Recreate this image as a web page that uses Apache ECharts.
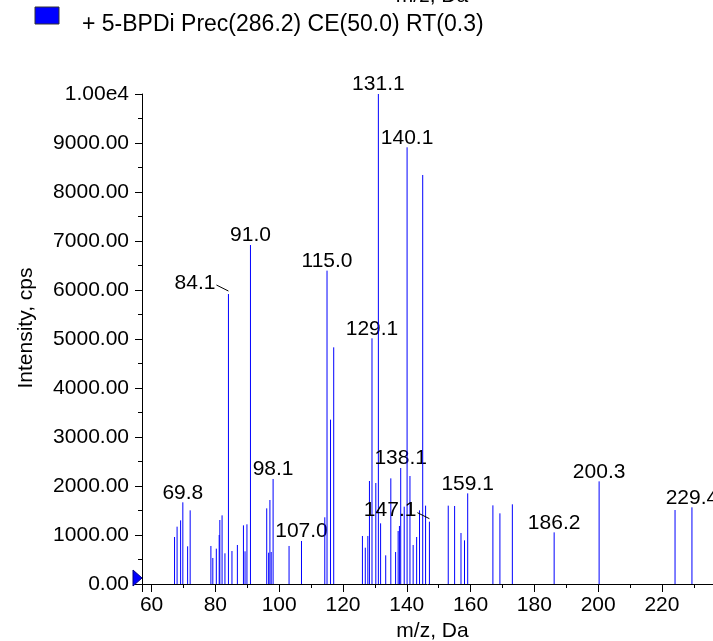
<!DOCTYPE html>
<html>
<head>
<meta charset="utf-8">
<script src="https://cdn.jsdelivr.net/npm/echarts@6/dist/echarts.min.js"></script>
<style>
html,body{margin:0;padding:0;background:#fff;}
#chart{width:713px;height:641px;}
</style>
</head>
<body>
<div id="chart"></div>
<script>
// ---- data ----
const seriesName = '+ 5-BPDi Prec(286.2) CE(50.0) RT(0.3)';
const mzValues = [
  67.2, 68.0, 69.1, 69.8, 71.3, 72.1, 78.6, 79.2, 80.3, 81.2, 81.4, 82.1, 83.0, 84.1, 85.2, 86.9,
  88.8, 89.3, 89.9, 91.0, 96.1, 96.7, 97.1, 97.5, 98.1, 103.1, 107.0, 114.3, 115.0, 116.1, 117.1,
  126.1, 127.0, 127.8, 128.3, 129.1, 130.3, 131.1, 131.8, 133.4, 135.0, 136.5, 137.3, 137.7, 138.1,
  139.2, 140.1, 141.0, 142.0, 143.1, 144.0, 145.0, 145.9, 147.1, 153.0, 155.0, 157.0, 158.1, 159.1,
  167.0, 169.2, 173.1, 186.2, 200.3, 224.1, 229.4
];
const intensities = [
  959, 1170, 1299, 1667, 769, 1503, 776, 531, 721, 1000, 1306, 1401, 626, 5918, 673, 796,
  1197, 667, 1218, 6918, 1544, 639, 1714, 653, 2143, 776, 878, 1361, 6395, 3354, 4830,
  980, 741, 980, 2102, 5014, 2061, 10000, 1238, 585, 2156, 653, 1082, 1184, 2367,
  1578, 8912, 2204, 796, 959, 1503, 8347, 1599, 1272, 1599, 1592, 1041, 891, 1850,
  1605, 1442, 1626, 1054, 2095, 1510, 1565
];
const labeledPeaks = [69.8, 84.1, 91.0, 98.1, 107.0, 115.0, 129.1, 131.1, 138.1, 140.1, 147.1, 159.1, 186.2, 200.3, 229.4];
const leaderLabelPeaks = [84.1, 147.1];
const xAxisTitle = 'm/z, Da';
const yAxisTitle = 'Intensity, cps';

// ---- chart ----
const FONT_FAMILY = '"Liberation Sans", Arial, sans-serif';
const FS = 21;
const FONT = FS + 'px ' + FONT_FAMILY;
const LEGEND_FONT = '23px ' + FONT_FAMILY;
const chart = echarts.init(document.getElementById('chart'), null, {renderer: 'canvas'});
const data = mzValues.map((m, i) => [m, intensities[i]]);

function renderItem(params, api) {
  const m = api.value(0), v = api.value(1);
  const top = api.coord([m, v]);
  const base = api.coord([m, 0]);
  const children = [{
    type: 'line',
    shape: {x1: top[0], y1: base[1], x2: top[0], y2: top[1]},
    style: {stroke: '#0000ff', lineWidth: 1}
  }];
  if (labeledPeaks.indexOf(m) >= 0) {
    const txt = m.toFixed(1);
    if (leaderLabelPeaks.indexOf(m) >= 0) {
      children.push({
        type: 'line',
        shape: {x1: top[0] - 12, y1: top[1] - 9, x2: top[0], y2: top[1] - 3},
        style: {stroke: '#000', lineWidth: 1}
      });
      children.push({
        type: 'text',
        style: {text: txt, x: top[0] - 13, y: top[1] - 11, align: 'right', verticalAlign: 'middle',
          textAlign: 'right', textVerticalAlign: 'middle', fill: '#000', font: FONT}
      });
    } else {
      children.push({
        type: 'text',
        style: {text: txt, x: top[0], y: top[1] + 1, align: 'center', verticalAlign: 'bottom',
          textAlign: 'center', textVerticalAlign: 'bottom', fill: '#000', font: FONT}
      });
    }
  }
  return {type: 'group', children: children};
}

const option = {
  backgroundColor: '#fff',
  animation: false,
  textStyle: {fontFamily: FONT_FAMILY},
  grid: {left: 142, right: 0, top: 94, bottom: 57, containLabel: false, outerBoundsMode: 'none'},
  xAxis: {
    type: 'value', min: 57, max: 236, minInterval: 20, maxInterval: 20,
    name: xAxisTitle, nameLocation: 'middle', nameGap: 37,
    nameTextStyle: {fontSize: FS, color: '#000', fontFamily: FONT_FAMILY, padding: [0, 0, 0, 10]},
    axisLine: {show: true, onZero: false, lineStyle: {color: '#000', width: 1}},
    axisTick: {show: true, length: 8, inside: false, lineStyle: {color: '#000'}},
    minorTick: {show: true, splitNumber: 2, length: 4, lineStyle: {color: '#000'}},
    axisLabel: {fontSize: FS, color: '#000', margin: 11, showMinLabel: false, showMaxLabel: false,
      formatter: v => (v % 20 === 0 ? String(v) : '')},
    splitLine: {show: false}
  },
  yAxis: {
    type: 'value', min: 0, max: 10000, interval: 1000,
    name: yAxisTitle, nameLocation: 'middle', nameGap: 105, nameRotate: 90,
    nameTextStyle: {fontSize: FS, color: '#000', fontFamily: FONT_FAMILY, padding: [0, 0, 0, 22]},
    axisLine: {show: true, lineStyle: {color: '#000', width: 1}},
    axisTick: {show: true, length: 7, lineStyle: {color: '#000'}},
    minorTick: {show: true, splitNumber: 2, length: 4, lineStyle: {color: '#000'}},
    axisLabel: {fontSize: FS, color: '#000', margin: 13,
      formatter: v => (v >= 10000 ? '1.00e4' : v.toFixed(2))},
    splitLine: {show: false}
  },
  graphic: [
    // legend swatch + series name
    {type: 'rect', shape: {x: 35, y: 7, width: 24, height: 17},
      style: {fill: '#0000ff', stroke: '#333', lineWidth: 1}},
    {type: 'text', style: {text: seriesName, x: 82, y: 25, align: 'left', verticalAlign: 'middle',
      textAlign: 'left', textVerticalAlign: 'middle', fill: '#000', font: LEGEND_FONT}},
    // precursor marker on the baseline
    {type: 'polygon', shape: {points: [[133, 570], [133, 586], [142, 578]]},
      style: {fill: '#0000ff', stroke: '#000080', lineWidth: 1}, z: 100},
    // axis title of the panel above (cut off at the top edge)
    {type: 'text', style: {text: xAxisTitle, x: 432, y: 7, align: 'center', verticalAlign: 'bottom',
      textAlign: 'center', textVerticalAlign: 'bottom', fill: '#000', font: FONT}}
  ],
  series: [{
    name: seriesName,
    type: 'custom',
    renderItem: renderItem,
    clip: false,
    itemStyle: {color: '#0000ff'},
    encode: {x: 0, y: 1},
    data: data
  }]
};
chart.setOption(option);
</script>
</body>
</html>
